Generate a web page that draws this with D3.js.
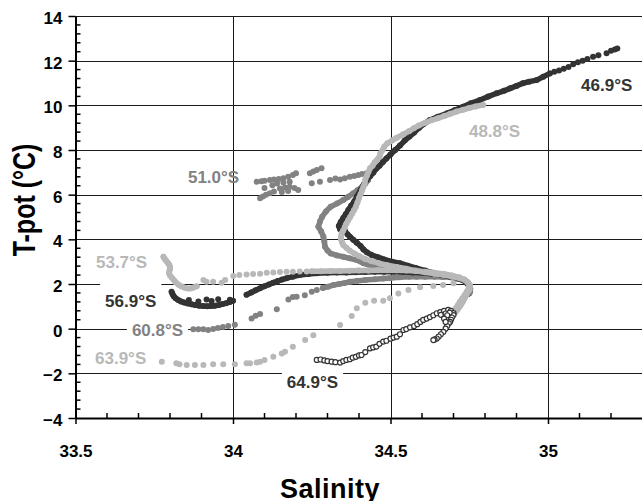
<!DOCTYPE html>
<html>
<head>
<meta charset="utf-8">
<script src="https://cdnjs.cloudflare.com/ajax/libs/d3/7.8.5/d3.min.js"></script>
<style>
  body { margin: 0; background: #fff; }
  svg { display: block; font-family: "Liberation Sans", Arial, sans-serif; font-weight: bold; }
</style>
</head>
<body>
<div id="chart-area"></div>
<script>
// tick values
const xTicks = [33.5, 34, 34.5, 35];
const yTicks = [-4, -2, 0, 2, 4, 6, 8, 10, 12, 14];
const xTickLabels = ["33.5", "34", "34.5", "35"];

// stations, [salinity, T-pot]
const st469Top = [
    [35.22, 12.55], [35.212, 12.5], [35.2, 12.44], [35.186, 12.33], [35.16, 12.24], [35.143, 12.18],
    [35.125, 12.08], [35.11, 12.0], [35.095, 11.93], [35.08, 11.84], [35.065, 11.72], [35.05, 11.64],
    [35.035, 11.56], [35.02, 11.5]
];
const st469 = [
    [35.006, 11.43], [34.985, 11.28],
    [34.964, 11.13], [34.94, 11.06], [34.92, 10.99], [34.9, 10.87], [34.88, 10.76], [34.86, 10.65],
    [34.837, 10.54], [34.81, 10.39], [34.784, 10.24], [34.755, 10.09], [34.73, 9.94], [34.705, 9.79],
    [34.68, 9.64], [34.65, 9.49], [34.625, 9.34], [34.605, 9.16], [34.59, 8.98],
    [34.575, 8.78], [34.56, 8.6], [34.545, 8.42], [34.53, 8.2], [34.515, 8.0], [34.5, 7.8],
    [34.487, 7.62], [34.475, 7.45], [34.465, 7.3], [34.456, 7.18], [34.445, 6.98], [34.435, 6.82],
    [34.424, 6.66], [34.415, 6.45], [34.405, 6.2], [34.393, 5.91], [34.385, 5.7], [34.375, 5.5],
    [34.366, 5.31], [34.358, 5.12], [34.35, 4.95], [34.342, 4.78], [34.336, 4.6], [34.34, 4.45],
    [34.352, 4.55], [34.356, 4.35], [34.364, 4.22], [34.371, 4.12], [34.382, 3.98], [34.393, 3.85],
    [34.405, 3.7], [34.414, 3.55], [34.425, 3.42], [34.44, 3.3], [34.46, 3.2], [34.48, 3.1],
    [34.505, 3.0], [34.53, 2.93], [34.555, 2.82], [34.58, 2.72], [34.61, 2.6], [34.635, 2.5],
    [34.66, 2.41], [34.69, 2.32], [34.715, 2.25], [34.735, 2.15], [34.746, 2.0], [34.75, 1.85],
    [34.748, 1.7], [34.745, 1.55]
];

const st488 = [
    [34.794, 10.02], [34.77, 9.95], [34.75, 9.88], [34.73, 9.8], [34.71, 9.72], [34.69, 9.62],
    [34.67, 9.52], [34.65, 9.42], [34.63, 9.33], [34.61, 9.22], [34.59, 9.1], [34.575, 8.98],
    [34.56, 8.85], [34.54, 8.7], [34.52, 8.55], [34.505, 8.42], [34.49, 8.3], [34.48, 8.15],
    [34.475, 8.0], [34.468, 7.85], [34.465, 7.7], [34.458, 7.57], [34.45, 7.45], [34.443, 7.3],
    [34.435, 7.18], [34.43, 7.02], [34.425, 6.85], [34.42, 6.68], [34.418, 6.5], [34.414, 6.35],
    [34.41, 6.2], [34.405, 6.02], [34.4, 5.85], [34.395, 5.65], [34.39, 5.46], [34.384, 5.3],
    [34.378, 5.15], [34.372, 5.0], [34.366, 4.87], [34.36, 4.7], [34.355, 4.55], [34.35, 4.4],
    [34.345, 4.27], [34.343, 4.12], [34.343, 4.0], [34.346, 3.87], [34.35, 3.75], [34.36, 3.62],
    [34.37, 3.5], [34.385, 3.37], [34.4, 3.25], [34.42, 3.12], [34.44, 3.02], [34.465, 2.92],
    [34.49, 2.84], [34.52, 2.76], [34.55, 2.68], [34.58, 2.6], [34.61, 2.53], [34.64, 2.46],
    [34.67, 2.4], [34.695, 2.33], [34.72, 2.26], [34.738, 2.16], [34.747, 2.06], [34.752, 1.95],
    [34.752, 1.85], [34.75, 1.72], [34.745, 1.6], [34.74, 1.48], [34.735, 1.35], [34.73, 1.22],
    [34.725, 1.1], [34.72, 1.0], [34.715, 0.9], [34.71, 0.8], [34.705, 0.72]
];

const st510Scatter = [
    [34.075, 6.58], [34.09, 6.6], [34.10, 6.62], [34.117, 6.66], [34.13, 6.68], [34.145, 6.7],
    [34.16, 6.73], [34.175, 6.8], [34.19, 6.88], [34.20, 6.96], [34.086, 5.84], [34.095, 5.92],
    [34.105, 6.0], [34.117, 6.06], [34.13, 6.14], [34.149, 6.28], [34.165, 6.32], [34.18, 6.36],
    [34.195, 6.3], [34.207, 6.21], [34.10, 6.3], [34.125, 6.42], [34.14, 6.5], [34.16, 6.55],
    [34.18, 6.58], [34.155, 6.12], [34.175, 6.16], [34.244, 6.96], [34.255, 7.04], [34.266, 7.10],
    [34.281, 7.18], [34.25, 6.51], [34.276, 6.58], [34.308, 6.66], [34.325, 6.72], [34.34, 6.68],
    [34.355, 6.74], [34.371, 6.80], [34.385, 6.84], [34.398, 6.88], [34.41, 6.93], [34.424, 6.96]
];
const st510 = [
    [34.43, 6.8], [34.429, 6.66], [34.42, 6.5], [34.41, 6.36], [34.395, 6.2], [34.382, 6.06],
    [34.365, 5.9], [34.35, 5.76], [34.33, 5.6], [34.31, 5.46], [34.295, 5.25], [34.283, 5.01],
    [34.276, 4.8], [34.271, 4.56], [34.28, 4.35], [34.287, 4.12], [34.29, 3.9], [34.292, 3.67],
    [34.3, 3.5], [34.31, 3.37], [34.33, 3.28], [34.35, 3.22], [34.37, 3.15], [34.393, 3.07],
    [34.414, 2.93], [34.44, 2.8], [34.477, 2.70], [34.505, 2.66], [34.53, 2.62], [34.555, 2.58],
    [34.583, 2.55], [34.61, 2.5], [34.64, 2.45], [34.665, 2.4], [34.689, 2.33], [34.71, 2.26],
    [34.73, 2.18], [34.742, 2.08], [34.748, 2.0], [34.752, 1.9], [34.753, 1.8], [34.752, 1.68],
    [34.75, 1.58]
];

const st537Hook = [
    [33.779, 3.22], [33.782, 3.15], [33.786, 3.08], [33.79, 3.0], [33.795, 2.92], [33.798, 2.84],
    [33.8, 2.76], [33.8, 2.68], [33.798, 2.58], [33.797, 2.48], [33.8, 2.38], [33.806, 2.28],
    [33.812, 2.18], [33.818, 2.08], [33.826, 1.98], [33.835, 1.9], [33.845, 1.84], [33.855, 1.8],
    [33.865, 1.8], [33.875, 1.84], [33.885, 1.9]
];
const st537Scatter = [
    [33.906, 2.18], [33.916, 2.1], [33.937, 2.10], [33.964, 2.06], [33.975, 2.18], [34.001, 2.36],
    [34.02, 2.4], [34.043, 2.43], [34.064, 2.45], [34.086, 2.46], [34.107, 2.5], [34.128, 2.52],
    [34.149, 2.54], [34.17, 2.55], [34.19, 2.55], [34.212, 2.56], [34.234, 2.56]
];
const st537 = [
    [34.25, 2.57], [34.28, 2.57], [34.31, 2.58], [34.34, 2.58], [34.37, 2.59], [34.40, 2.6],
    [34.43, 2.61], [34.46, 2.62], [34.49, 2.62], [34.52, 2.62], [34.55, 2.6], [34.58, 2.58],
    [34.61, 2.55], [34.64, 2.5], [34.67, 2.45], [34.695, 2.38], [34.718, 2.3], [34.735, 2.2],
    [34.745, 2.08], [34.75, 1.95], [34.748, 1.8], [34.742, 1.65], [34.735, 1.5], [34.728, 1.35],
    [34.72, 1.2], [34.714, 1.05], [34.708, 0.92], [34.70, 0.8], [34.695, 0.68], [34.69, 0.55]
];

const st569Hook = [
    [33.805, 1.65], [33.808, 1.55], [33.812, 1.45], [33.818, 1.36], [33.826, 1.28], [33.835, 1.22],
    [33.845, 1.17], [33.856, 1.13], [33.868, 1.09], [33.88, 1.06], [33.892, 1.03], [33.905, 1.01],
    [33.918, 1.0], [33.93, 1.01], [33.942, 1.03], [33.955, 1.06], [33.967, 1.1], [33.978, 1.14],
    [33.99, 1.19], [34.0, 1.25]
];
const st569Scatter = [
    [33.86, 1.28], [33.89, 1.22], [33.916, 1.31], [33.932, 1.24], [33.953, 1.32], [33.99, 1.3]
];
const st569 = [
    [34.043, 1.52], [34.058, 1.62], [34.072, 1.72], [34.086, 1.81], [34.1, 1.9], [34.114, 1.98],
    [34.128, 2.06], [34.142, 2.13], [34.156, 2.2], [34.17, 2.26], [34.19, 2.33], [34.212, 2.4],
    [34.24, 2.45], [34.266, 2.48], [34.3, 2.5], [34.33, 2.51], [34.36, 2.52], [34.39, 2.53],
    [34.42, 2.54], [34.45, 2.55], [34.48, 2.55], [34.51, 2.55], [34.54, 2.54], [34.57, 2.52],
    [34.6, 2.5], [34.63, 2.46], [34.66, 2.42], [34.69, 2.36], [34.712, 2.28], [34.73, 2.2],
    [34.742, 2.08], [34.748, 1.95], [34.75, 1.82], [34.748, 1.7], [34.745, 1.6]
];

const st608Scatter = [
    [33.874, -0.03], [33.89, -0.03], [33.906, -0.03], [33.921, -0.06], [33.937, -0.02], [33.952, 0.03],
    [33.968, 0.07], [33.985, 0.12], [34.006, 0.18], [34.059, 0.46], [34.072, 0.58], [34.086, 0.66],
    [34.139, 0.87], [34.176, 1.31], [34.19, 1.42], [34.202, 1.43], [34.228, 1.5], [34.25, 1.65],
    [34.266, 1.73]
];
const st608 = [
    [34.285, 1.82], [34.302, 1.88], [34.319, 1.95], [34.337, 2.0], [34.355, 2.05], [34.371, 2.1],
    [34.395, 2.14], [34.42, 2.18], [34.45, 2.21], [34.477, 2.25], [34.5, 2.27], [34.53, 2.3],
    [34.56, 2.32], [34.583, 2.33], [34.61, 2.33], [34.64, 2.32], [34.665, 2.31], [34.689, 2.3],
    [34.71, 2.25], [34.728, 2.17], [34.742, 2.05], [34.75, 1.92], [34.753, 1.8], [34.753, 1.65]
];

const st639 = [
    [33.774, -1.48], [33.82, -1.55], [33.83, -1.59], [33.853, -1.63], [33.879, -1.63], [33.906, -1.63],
    [33.937, -1.59], [33.969, -1.59], [34.006, -1.59], [34.043, -1.55], [34.054, -1.55], [34.075, -1.51],
    [34.086, -1.48], [34.10, -1.40], [34.128, -1.26], [34.155, -1.11], [34.165, -1.03], [34.19, -0.81],
    [34.229, -0.51], [34.255, -0.29], [34.34, 0.16], [34.377, 0.57], [34.393, 0.91], [34.42, 1.16],
    [34.448, 1.25], [34.477, 1.25], [34.498, 1.36], [34.525, 1.58], [34.557, 1.73], [34.594, 1.85],
    [34.636, 1.91], [34.667, 1.95], [34.70, 2.03]
];

const st649 = [
    [34.266, -1.40], [34.278, -1.38], [34.29, -1.42], [34.3, -1.45], [34.313, -1.48], [34.325, -1.5],
    [34.34, -1.52], [34.35, -1.45], [34.36, -1.40], [34.371, -1.37], [34.38, -1.3], [34.39, -1.26],
    [34.4, -1.2], [34.408, -1.18], [34.42, -1.05], [34.435, -0.88], [34.445, -0.84], [34.455, -0.8],
    [34.465, -0.68], [34.477, -0.58], [34.487, -0.54], [34.5, -0.45], [34.51, -0.4], [34.52, -0.36],
    [34.53, -0.25], [34.541, -0.06], [34.55, -0.02], [34.562, 0.06], [34.575, 0.12], [34.585, 0.2],
    [34.595, 0.3], [34.604, 0.39], [34.615, 0.45], [34.625, 0.52], [34.636, 0.6], [34.647, 0.69],
    [34.658, 0.74], [34.67, 0.8], [34.683, 0.84], [34.692, 0.8], [34.7, 0.7], [34.7, 0.61],
    [34.695, 0.5], [34.692, 0.4], [34.689, 0.3], [34.685, 0.24], [34.68, 0.12], [34.675, 0.0],
    [34.668, -0.14], [34.66, -0.25], [34.653, -0.35], [34.647, -0.44], [34.64, -0.48], [34.636, -0.51],
    [34.66, 0.62], [34.675, 0.68], [34.688, 0.72], [34.68, 0.6], [34.67, 0.45], [34.675, 0.3]
];

// station labels: text and anchor (salinity, T-pot) of the text's left baseline
const labelText = ["46.9°S", "48.8°S", "51.0°S", "53.7°S", "56.9°S", "60.8°S", "63.9°S", "64.9°S"];
const labelAt = [[35.105, 10.64], [34.749, 8.58], [33.857, 6.52], [33.565, 2.715],
                 [33.594, 0.97], [33.679, -0.33], [33.562, -1.58], [34.171, -2.66]];

const dark = "#333333", mid = "#828282", light = "#b8b8b8";
const labelColor = [dark, light, mid, light, dark, mid, light, dark];
const labelBoxed = [true, true, false, true, true, true, true, true];

// drawing order, bottom first
const layers = [
    { pts: st608Scatter, color: mid, mode: "dots" },
    { pts: st608, color: mid, mode: "trace" },
    { pts: st510Scatter, color: mid, mode: "dots" },
    { pts: st510, color: mid, mode: "trace" },
    { pts: st469Top, color: dark, mode: "dots" },
    { pts: st469, color: dark, mode: "trace" },
    { pts: st569Hook, color: dark, mode: "trace" },
    { pts: st569Scatter, color: dark, mode: "dots" },
    { pts: st569, color: dark, mode: "trace" },
    { pts: st488, color: light, mode: "trace" },
    { pts: st537Hook, color: light, mode: "trace" },
    { pts: st537Scatter, color: light, mode: "dots" },
    { pts: st537, color: light, mode: "trace" },
    { pts: st639, color: light, mode: "dots" },
    { pts: st649, color: dark, mode: "open" }
];

const width = 642;
const height = 501;

const svg = d3.select("#chart-area")
    .append("svg")
    .attr("width", width)
    .attr("height", height);

const x = d3.scaleLinear()
    .domain([33.5, 35.3])
    .range([75.5, 642.5]);

const y = d3.scaleLinear()
    .domain([-4, 14])
    .range([418, 16]);

// grid
const grid = svg.append("g").attr("stroke", "#1a1a1a").attr("stroke-width", 1);
grid.selectAll(".hgrid")
    .data(yTicks.filter(d => d > -4))
    .enter()
    .append("line")
    .attr("x1", x(33.5))
    .attr("x2", width)
    .attr("y1", d => Math.round(y(d)) + 0.5)
    .attr("y2", d => Math.round(y(d)) + 0.5);
grid.selectAll(".vgrid")
    .data(xTicks.filter(d => d > 33.5))
    .enter()
    .append("line")
    .attr("x1", d => Math.round(x(d)) + 0.5)
    .attr("x2", d => Math.round(x(d)) + 0.5)
    .attr("y1", y(14))
    .attr("y2", y(-4));

const boxG = svg.append("g");
const markG = svg.append("g");
const labelG = svg.append("g");

const line = d3.line()
    .x(d => x(d[0]))
    .y(d => y(d[1]));

layers.forEach(l => {
    if (l.mode === "trace") {
        markG.append("path")
            .datum(l.pts)
            .attr("d", line)
            .attr("fill", "none")
            .attr("stroke", l.color)
            .attr("stroke-width", 5.5)
            .attr("stroke-linecap", "round")
            .attr("stroke-linejoin", "round");
    }
    markG.append("g")
        .selectAll("circle")
        .data(l.pts)
        .enter()
        .append("circle")
        .attr("cx", d => x(d[0]))
        .attr("cy", d => y(d[1]))
        .attr("r", l.mode === "open" ? 2.5 : 3)
        .attr("fill", l.mode === "open" ? "#fff" : l.color)
        .attr("stroke", l.mode === "open" ? l.color : "none")
        .attr("stroke-width", 1.2);
});

// station labels
labelText.forEach((t, i) => {
    const txt = labelG.append("text")
        .attr("x", x(labelAt[i][0]))
        .attr("y", y(labelAt[i][1]))
        .attr("font-size", "17px")
        .attr("fill", labelColor[i])
        .text(t);
    if (labelBoxed[i]) {
        const b = txt.node().getBBox();
        boxG.append("rect")
            .attr("x", b.x - 5)
            .attr("y", y(labelAt[i][1]) - 26)
            .attr("width", b.width + 10)
            .attr("height", 32)
            .attr("fill", "#fff");
    }
});

// axes
const xAxis = d3.axisBottom(x)
    .tickValues(xTicks)
    .tickFormat((d, i) => xTickLabels[i])
    .tickSize(6)
    .tickSizeOuter(0)
    .tickPadding(21);
const gx = svg.append("g")
    .attr("transform", `translate(0, ${y(-4)})`)
    .call(xAxis);

const yAxis = d3.axisLeft(y)
    .tickValues(yTicks)
    .tickSize(7)
    .tickSizeOuter(0)
    .tickPadding(6);
const gy = svg.append("g")
    .attr("transform", `translate(${x(33.5)}, 0)`)
    .call(yAxis);

svg.selectAll(".domain")
    .attr("stroke", "#000")
    .attr("stroke-width", 2);
svg.selectAll(".tick line")
    .attr("stroke", "#000")
    .attr("stroke-width", 1.5);
svg.selectAll(".tick text")
    .attr("fill", "#000")
    .style("font-family", "'Liberation Sans', Arial, sans-serif")
    .style("font-weight", "bold")
    .style("font-size", "17px");
gy.selectAll(".tick text").attr("dy", "0.45em");

// minor ticks
const xMinor = d3.range(33.6, 35.3, 0.1).filter(v => Math.abs(v * 2 - Math.round(v * 2)) > 0.01);
svg.append("g").selectAll("line")
    .data(xMinor)
    .enter()
    .append("line")
    .attr("x1", d => x(d))
    .attr("x2", d => x(d))
    .attr("y1", y(-4))
    .attr("y2", y(-4) - 5)
    .attr("stroke", "#000")
    .attr("stroke-width", 1.5);
const yMinor = d3.range(-3.6, 14, 0.4).filter(v => Math.abs(v / 2 - Math.round(v / 2)) > 0.01);
svg.append("g").selectAll("line")
    .data(yMinor)
    .enter()
    .append("line")
    .attr("x1", x(33.5))
    .attr("x2", x(33.5) + 5)
    .attr("y1", d => y(d))
    .attr("y2", d => y(d))
    .attr("stroke", "#000")
    .attr("stroke-width", 1.5);

// axis titles
svg.append("text")
    .attr("x", 330)
    .attr("y", 498)
    .attr("text-anchor", "middle")
    .attr("font-size", "27px")
    .style("letter-spacing", "0.5px")
    .text("Salinity");

svg.append("text")
    .attr("transform", "translate(35, 200) rotate(-90) scale(1, 1.25)")
    .attr("text-anchor", "middle")
    .attr("font-size", "25px")
    .text("T-pot (°C)");
</script>
</body>
</html>
